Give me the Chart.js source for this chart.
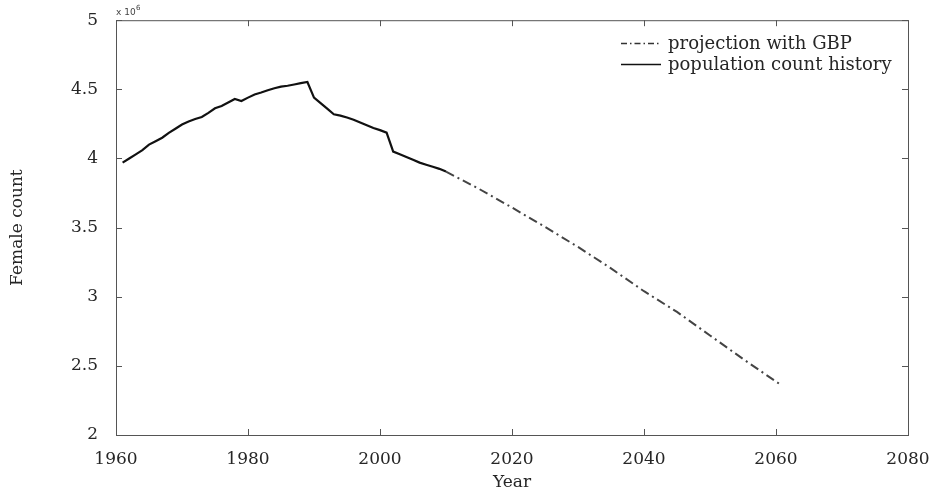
<!DOCTYPE html>
<html>
<head>
<meta charset="utf-8">
<script src="https://cdn.jsdelivr.net/npm/chart.js@4/dist/chart.umd.min.js"></script>
<style>
  html, body { margin: 0; padding: 0; background: #fff; }
  #wrap { width: 937px; height: 496px; }
</style>
</head>
<body>
<div id="wrap"><canvas id="popChart" width="937" height="496"></canvas></div>
<script>
// female population history and GBP projection, in millions
const histYears = [1961, 1962, 1963, 1964, 1965, 1966, 1967, 1968, 1969, 1970,
  1971, 1972, 1973, 1974, 1975, 1976, 1977, 1978, 1979, 1980,
  1981, 1982, 1983, 1984, 1985, 1986, 1987, 1988, 1989, 1990,
  1991, 1992, 1993, 1994, 1995, 1996, 1997, 1998, 1999, 2000,
  2001, 2002, 2003, 2004, 2005, 2006, 2007, 2008, 2009, 2010];
const histFemale = [3.97, 4.00, 4.03, 4.06, 4.10, 4.125, 4.15, 4.185, 4.215, 4.245,
  4.267, 4.285, 4.30, 4.33, 4.363, 4.38, 4.405, 4.43, 4.416, 4.44,
  4.463, 4.477, 4.493, 4.508, 4.52, 4.526, 4.535, 4.545, 4.553, 4.44,
  4.40, 4.36, 4.32, 4.31, 4.296, 4.28, 4.26, 4.24, 4.22, 4.205,
  4.187, 4.05, 4.03, 4.01, 3.99, 3.97, 3.955, 3.94, 3.925, 3.905];

const projYears = [2010, 2015, 2020, 2025, 2030, 2035, 2040, 2045, 2050, 2055, 2060.5];
const projFemale = [3.905, 3.78, 3.645, 3.505, 3.36, 3.205, 3.04, 2.89, 2.72, 2.55, 2.37];

const xTicks = [1960, 1980, 2000, 2020, 2040, 2060, 2080];
const yTicks = [2, 2.5, 3, 3.5, 4, 4.5, 5];

const SERIF = "'DejaVu Serif', serif";
const AXIS_COLOR = '#555';
const TEXT_COLOR = '#262626';
const PROJ_DASH = [9, 4, 2, 4];

const toPoints = (xs, ys) => xs.map((x, i) => ({ x, y: ys[i] }));

// box around the plot, inward ticks on all four sides, exponent note, legend
const framePlugin = {
  id: 'frame',
  afterDraw(chart) {
    const { ctx, chartArea: a, scales } = chart;
    const tl = 6;
    ctx.save();
    ctx.strokeStyle = AXIS_COLOR;
    ctx.lineWidth = 1;
    ctx.strokeRect(a.left + 0.5, a.top + 0.5, a.right - a.left, a.bottom - a.top);

    ctx.beginPath();
    xTicks.forEach(v => {
      const px = Math.round(scales.x.getPixelForValue(v)) + 0.5;
      ctx.moveTo(px, a.bottom); ctx.lineTo(px, a.bottom - tl);
      ctx.moveTo(px, a.top); ctx.lineTo(px, a.top + tl);
    });
    yTicks.forEach(v => {
      const py = Math.round(scales.y.getPixelForValue(v)) + 0.5;
      ctx.moveTo(a.left, py); ctx.lineTo(a.left + tl, py);
      ctx.moveTo(a.right, py); ctx.lineTo(a.right - tl, py);
    });
    ctx.stroke();

    // exponent note above the y axis
    ctx.fillStyle = '#444';
    ctx.textBaseline = 'alphabetic';
    ctx.font = "9px 'DejaVu Sans', sans-serif";
    ctx.fillText('x 10', a.left, a.top - 5);
    ctx.font = "7px 'DejaVu Sans', sans-serif";
    ctx.fillText('6', a.left + 20, a.top - 10);

    // legend, top right inside the plot
    const items = [
      { text: 'projection with GBP', color: '#333', width: 1.6, dash: [6, 3, 1.5, 3] },
      { text: 'population count history', color: '#111', width: 1.5, dash: [] },
    ];
    const lx = 621, ly = 43, rowH = 21;
    ctx.font = '18px ' + SERIF;
    ctx.textBaseline = 'middle';
    items.forEach((it, i) => {
      const y = ly + i * rowH;
      ctx.beginPath();
      ctx.setLineDash(it.dash);
      ctx.strokeStyle = it.color;
      ctx.lineWidth = it.width;
      ctx.moveTo(lx, y + 0.5);
      ctx.lineTo(lx + 40, y + 0.5);
      ctx.stroke();
      ctx.setLineDash([]);
      ctx.fillStyle = TEXT_COLOR;
      ctx.fillText(it.text, lx + 47, y + 1);
    });
    ctx.restore();
  }
};

new Chart(document.getElementById('popChart'), {
  type: 'line',
  data: {
    datasets: [
      {
        label: 'population count history',
        data: toPoints(histYears, histFemale),
        borderColor: '#111',
        borderWidth: 2.2,
        pointRadius: 0,
        tension: 0,
        fill: false,
      },
      {
        label: 'projection with GBP',
        data: toPoints(projYears, projFemale),
        borderColor: '#444',
        borderWidth: 2,
        borderDash: PROJ_DASH,
        pointRadius: 0,
        tension: 0,
        fill: false,
      },
    ],
  },
  options: {
    responsive: false,
    animation: false,
    events: [],
    layout: { padding: { top: 19, right: 29, left: 0, bottom: 0 } },
    plugins: { legend: { display: false }, tooltip: { enabled: false } },
    scales: {
      x: {
        type: 'linear',
        min: 1960,
        max: 2080,
        afterFit: s => { s.height = 61; },
        afterBuildTicks: s => { s.ticks = xTicks.map(v => ({ value: v })); },
        grid: { display: false },
        border: { display: false },
        ticks: {
          color: TEXT_COLOR,
          font: { family: SERIF, size: 17 },
          padding: 6,
          maxRotation: 0,
          callback: v => String(v),
        },
        title: {
          display: true,
          text: 'Year',
          color: TEXT_COLOR,
          font: { family: SERIF, size: 17 },
          padding: { top: 0, bottom: 3 },
        },
      },
      y: {
        type: 'linear',
        min: 2,
        max: 5,
        afterFit: s => { s.width = 116; },
        afterBuildTicks: s => { s.ticks = yTicks.map(v => ({ value: v })); },
        grid: { display: false },
        border: { display: false },
        ticks: {
          color: TEXT_COLOR,
          font: { family: SERIF, size: 17 },
          padding: 10,
          callback: v => String(v),
        },
        title: {
          display: true,
          text: 'Female count',
          color: TEXT_COLOR,
          font: { family: SERIF, size: 17 },
          padding: { top: 7, bottom: 0 },
        },
      },
    },
  },
  plugins: [framePlugin],
});
</script>
</body>
</html>
